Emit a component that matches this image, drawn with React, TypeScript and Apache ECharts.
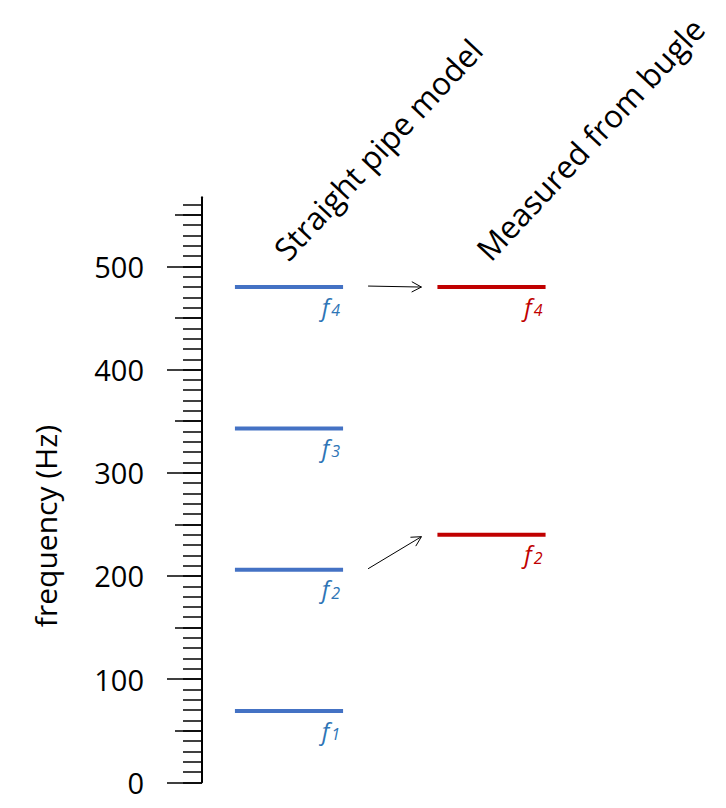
import React, { useEffect, useRef } from "react";
import * as echarts from "echarts";

const categories = ["Straight pipe model", "Measured from bugle"];
const modelLabels = ["1", "2", "3", "4"];
const modelFreqs = [69, 206, 343, 480];
const measuredLabels = ["2", "4"];
const measuredFreqs = [240, 480];
const arrowFrom = [206, 480];
const arrowTo = [240, 480];
const yMin = 0;
const yMax = 567;
const majorTicks = [0, 100, 200, 300, 400, 500];
const midTicks = [50, 150, 250, 350, 450, 550];
const minorTicks = [
  0, 10, 20, 30, 40, 50, 60, 70, 80, 90, 100, 110, 120, 130, 140, 150, 160, 170, 180, 190, 200,
  210, 220, 230, 240, 250, 260, 270, 280, 290, 300, 310, 320, 330, 340, 350, 360, 370, 380, 390,
  400, 410, 420, 430, 440, 450, 460, 470, 480, 490, 500, 510, 520, 530, 540, 550, 560,
];
const yName = "frequency (Hz)";

const FONT = "'Open Sans', 'Noto Sans', sans-serif";
const BLUE = "#4472C4";
const BLUE_TEXT = "#2E75B6";
const RED = "#C00000";

export default function App() {
  const ref = useRef<HTMLDivElement>(null);
  useEffect(() => {
    if (!ref.current) return;
    const chart = echarts.init(ref.current, undefined, { renderer: "svg" });

    const lineRender = (labels: string[], color: string, textColor: string) =>
      (params: any, api: any) => {
        const cat = api.value(0);
        const v = api.value(1);
        const c = api.coord([cat, v]);
        const half = api.size([1, 0])[0] * 0.267;
        return {
          type: "group",
          children: [
            {
              type: "line",
              shape: { x1: c[0] - half, y1: c[1], x2: c[0] + half, y2: c[1] },
              style: { stroke: color, lineWidth: 4 },
            },
            {
              type: "text",
              x: c[0] + half - 3,
              y: c[1] + 1,
              style: {
                text: `{f|f}{s|${labels[params.dataIndex]}}`,
                align: "right",
                verticalAlign: "top",
                rich: {
                  f: { fontSize: 24, fontStyle: "italic", fontFamily: FONT, fill: textColor, verticalAlign: "bottom", lineHeight: 30 },
                  s: { fontSize: 16, fontStyle: "italic", fontFamily: FONT, fill: textColor, verticalAlign: "bottom", lineHeight: 22, padding: [0, 0, 0, 2] },
                },
              },
            },
          ],
        };
      };

    const arrowRender = (params: any, api: any) => {
      const i = params.dataIndex;
      const half = api.size([1, 0])[0] * 0.267;
      const p1 = api.coord([0, arrowFrom[i]]);
      const p2 = api.coord([1, arrowTo[i]]);
      const sx = p1[0] + half + 25;
      const sy = p1[1] - 1;
      const ex = p2[0] - half - 16;
      const ey = p2[1] + (p1[1] !== p2[1] ? 2 : 0);
      const ang = Math.atan2(ey - sy, ex - sx);
      const L = 11;
      const a = (28 * Math.PI) / 180;
      return {
        type: "group",
        children: [
          { type: "line", shape: { x1: sx, y1: sy, x2: ex, y2: ey }, style: { stroke: "#000", lineWidth: 1 } },
          {
            type: "polyline",
            shape: {
              points: [
                [ex - L * Math.cos(ang - a), ey - L * Math.sin(ang - a)],
                [ex, ey],
                [ex - L * Math.cos(ang + a), ey - L * Math.sin(ang + a)],
              ],
            },
            style: { stroke: "#000", lineWidth: 1, fill: "none" },
          },
        ],
      };
    };

    const titleRender = (params: any, api: any) => {
      const i = params.dataIndex;
      const c = api.coord([i, yMax]);
      return {
        type: "text",
        x: c[0] + 2,
        y: c[1] + 68,
        rotation: (47 * Math.PI) / 180,
        style: {
          text: categories[i],
          align: "left",
          verticalAlign: "bottom",
          fontSize: 31.5,
          fontFamily: FONT,
          fill: "#000",
        },
      };
    };

    const baseY = {
      type: "value" as const,
      min: yMin,
      max: yMax,
      position: "left" as const,
      offset: -14.25,
      splitLine: { show: false },
      axisLabel: { show: false },
    };

    chart.setOption({
      animation: false,
      grid: { left: 187.75, width: 405, top: 197.3, height: 585 },
      xAxis: {
        type: "category",
        data: categories,
        show: false,
        boundaryGap: true,
      },
      yAxis: [
        {
          ...baseY,
          axisLine: { show: true, lineStyle: { color: "#000", width: 2 } },
          axisTick: { show: true, customValues: majorTicks, length: 35, lineStyle: { color: "#000", width: 1.5 } },
          axisLabel: {
            show: true,
            customValues: majorTicks,
            margin: 58,
            fontSize: 29,
            fontFamily: FONT,
            color: "#000",
          },
        },
        {
          ...baseY,
          axisLine: { show: false },
          axisTick: { show: true, customValues: midTicks, length: 27, lineStyle: { color: "#000", width: 1.5 } },
        },
        {
          ...baseY,
          axisLine: { show: false },
          axisTick: { show: true, customValues: minorTicks, length: 19, lineStyle: { color: "#000", width: 1.5 } },
        },
      ],
      graphic: [
        {
          type: "text",
          x: 45,
          y: 526,
          rotation: Math.PI / 2,
          style: {
            text: yName,
            align: "center",
            verticalAlign: "middle",
            fontSize: 30,
            fontFamily: FONT,
            fill: "#000",
          },
        },
      ],
      series: [
        {
          type: "custom",
          name: categories[0],
          clip: false,
          renderItem: lineRender(modelLabels, BLUE, BLUE_TEXT),
          data: modelFreqs.map((f) => [0, f]),
        },
        {
          type: "custom",
          name: categories[1],
          clip: false,
          renderItem: lineRender(measuredLabels, RED, RED),
          data: measuredFreqs.map((f) => [1, f]),
        },
        {
          type: "custom",
          clip: false,
          renderItem: arrowRender,
          data: arrowFrom.map((f) => [0, f]),
        },
        {
          type: "custom",
          clip: false,
          renderItem: titleRender,
          data: categories.map((c, i) => [i, yMax]),
        },
      ],
    });
    return () => chart.dispose();
  }, []);
  return <div ref={ref} style={{ position: "absolute", left: 0, top: 0, width: 726, height: 808 }} />;
}
